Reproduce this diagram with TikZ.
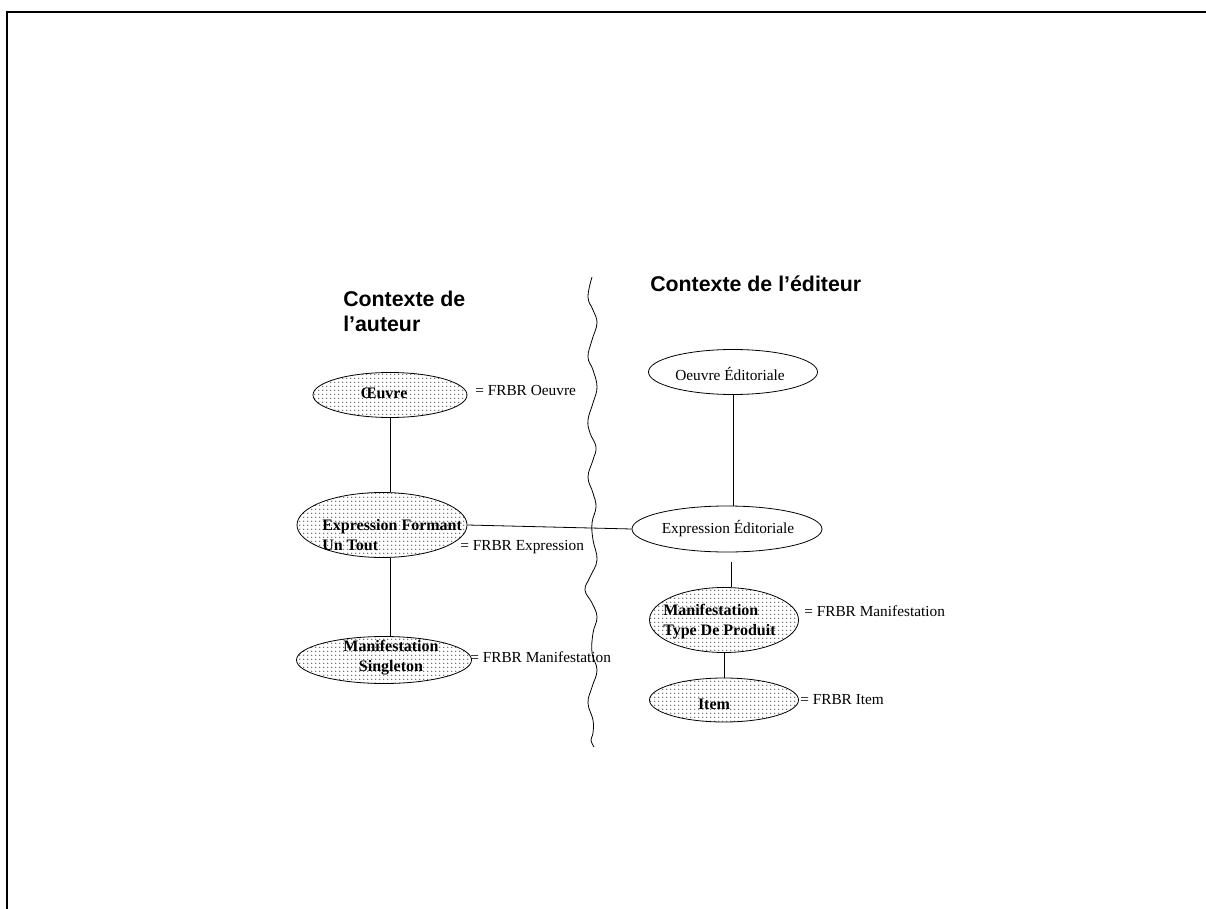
\documentclass[tikz,border=0pt]{standalone}
\usepackage{fontspec}
\setmainfont{Liberation Serif}
\setsansfont{Liberation Sans}
\usetikzlibrary{shapes.geometric, patterns, positioning}
\pgfdeclarepatternformonly{finedots}{\pgfpointorigin}{\pgfpoint{2.8pt}{2.8pt}}{\pgfpoint{2.8pt}{2.8pt}}{%
	\pgfpathcircle{\pgfpoint{1.4pt}{1.4pt}}{0.5pt}\pgfusepath{fill}}
\tikzstyle{entity} = [ellipse, draw, line width=0.6pt, inner sep=0pt]
\tikzstyle{frbr} = [entity, pattern=finedots, pattern color=black!75]
\tikzstyle{plainent} = [entity, fill=white]
\tikzstyle{entlabel} = [font=\fontsize{12}{15}\selectfont\bfseries, inner sep=0pt]
\tikzstyle{edlabel} = [font=\fontsize{11.5}{14}\selectfont, inner sep=0pt]
\tikzstyle{equiv} = [font=\fontsize{11.5}{14}\selectfont, anchor=base west, inner sep=0pt]
\tikzstyle{context} = [font=\sffamily\bfseries\fontsize{16}{18.5}\selectfont, anchor=north west, align=left, inner sep=0pt]
\tikzstyle{link} = [draw, line width=0.6pt]
\tikzstyle{pageframe} = [draw, line width=1.5pt]

\begin{document}
\begin{tikzpicture}[x=0.75pt, y=-0.75pt]
	\useasboundingbox (0,0) rectangle (1206,909);
	\draw[pageframe] (1206,12) -- (7,12) -- (7,909);
	
	% Headings of the two contexts
	\node[context] (authorctx) at (343,291) {Contexte de\\l’auteur};
	\node[context] (editorctx) at (650,276) {Contexte de l’éditeur};
	
	% Border between the contexts
	\draw[link] plot[smooth, tension=0.7] coordinates {
		(592,277) (588,297) (593,310) (597,323) (592,340) (588,357)
		(593,370) (597,387) (593,403) (588,420) (590,433) (596,447)
		(593,460) (588,477) (593,493) (596,507) (592,523) (593,540)
		(597,560) (590,577) (585,590) (592,603) (597,617) (593,633)
		(592,653) (597,670) (592,687) (588,703) (593,720) (593,733)
		(591,740) (594,747)};
	
	% First we draw the FRBR entities
	\foreach \pos/\name/\w/\h in {{(390,395)/oeuvre/154/45}, {(382,525)/expr/170/65},
		{(384,660)/single/175/47}, {(724,620)/manif/149/65}, {(724,700)/item/149/44}}
	\node[frbr, minimum width=0.75*\w, minimum height=0.75*\h] (\name) at \pos {};
	
	% Then the editorial entities
	\foreach \pos/\name/\w/\h in {{(733,372)/oeuvreed/169/45}, {(727,529)/exped/190/46}}
	\node[plainent, minimum width=0.75*\w, minimum height=0.75*\h] (\name) at \pos {};
	
	% Names of the entities
	\node[entlabel] (oeuvretxt) at (384,393) {Œuvre};
	\node[entlabel, anchor=west, align=left] (exprtxt) at (322,535) {Expression Formant\\Un Tout};
	\node[entlabel, align=center] (singletxt) at (391,658) {Manifestation\\Singleton};
	\node[entlabel, anchor=west, align=left] (maniftxt) at (663,622) {Manifestation\\Type De Produit};
	\node[entlabel] (itemtxt) at (714,704) {Item};
	\node[edlabel] (oeuvreedtxt) at (730,374) {Oeuvre Éditoriale};
	\node[edlabel] (expedtxt) at (728,529) {Expression Éditoriale};
	
	% Equivalences with FRBR
	\foreach \pos/\name/\text in {{(475,395)/eqoeuvre/Oeuvre}, {(460,550)/eqexpr/Expression},
		{(470,662)/eqsingle/Manifestation}, {(804,616)/eqmanif/Manifestation},
		{(800,704)/eqitem/Item}}
	\node[equiv] (\name) at \pos {= FRBR \text};
	
	% Connect the entities
	\path[link] (oeuvre.south) -- (oeuvre.south |- expr.north);
	\path[link] (expr.south -| oeuvre.south) -- (single.north -| oeuvre.south);
	\path[link] (expr.east) -- (exped.west);
	\path[link] (oeuvreed.south) -- (oeuvreed.south |- exped.north);
	\path[link, shorten <=7.5pt] ([xshift=3pt]exped.south) -- ([xshift=3pt]exped.south |- manif.north);
	\path[link] (manif.south) -- (item.north);
	
\end{tikzpicture}
\end{document}
